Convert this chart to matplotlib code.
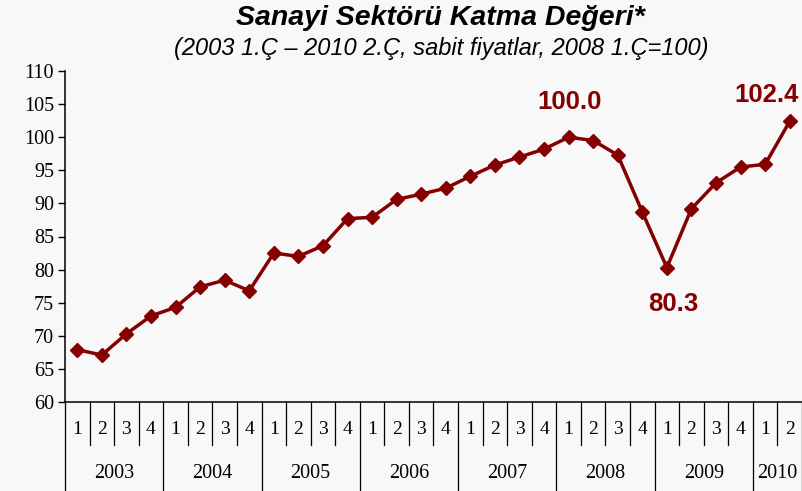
import numpy as np
import matplotlib.pyplot as plt
from matplotlib.transforms import blended_transform_factory

years = ["2003", "2004", "2005", "2006", "2007", "2008", "2009", "2010"]
quarters = ["1", "2", "3", "4"] * 7 + ["1", "2"]
values = [67.9, 67.1, 70.3, 73.0,
          74.3, 77.4, 78.4, 76.8,
          82.5, 82.0, 83.6, 87.7,
          87.9, 90.6, 91.4, 92.3,
          94.1, 95.8, 97.0, 98.2,
          100.0, 99.5, 97.3, 88.7,
          80.3, 89.2, 93.1, 95.5,
          95.9, 102.4]
# index of point -> (label, label x, label y)
labels = {20: ("100.0", 20.05, 105.3), 24: ("80.3", 24.25, 74.8), 29: ("102.4", 28.05, 106.4)}

red = "#850000"
bg = "#f8f8f8"

fig = plt.figure(figsize=(8.03, 4.91), dpi=100, facecolor=bg)
W, H = 803, 491
x0, x1, y0, y1 = 65, 802, 402, 71
ax = fig.add_axes([x0 / W, 1 - y0 / H, (x1 - x0) / W, (y0 - y1) / H])
ax.set_facecolor(bg)

x = np.arange(len(values))
ax.plot(x, values, color=red, lw=2.5, marker="D", ms=7, clip_on=False, zorder=3)

ax.set_xlim(-0.5, len(values) - 0.5)
ax.set_ylim(60, 110)
ax.set_yticks(np.arange(60, 111, 5))
ax.tick_params(axis="y", direction="out", length=5, width=1, labelsize=14.5, pad=3)
for t in ax.get_yticklabels():
    t.set_fontfamily("Liberation Serif")
ax.set_xticks([])
for s in ["top", "right"]:
    ax.spines[s].set_visible(False)
for s in ["left", "bottom"]:
    ax.spines[s].set_linewidth(1.1)

# two-level category axis
tr = blended_transform_factory(ax.transData, ax.transAxes)
ph = y0 - y1
q_len = 43 / ph
y_len = 88 / ph
for i, q in enumerate(quarters):
    ax.text(i, -27 / ph, q, transform=tr, ha="center", va="center",
            fontsize=14, fontfamily="Liberation Serif")
for i in range(len(values) + 1):
    xb = i - 0.5
    length = y_len if i % 4 == 0 or i == len(values) else q_len
    ax.plot([xb, xb], [0, -length], transform=tr, color="black", lw=0.9, clip_on=False)
for k, yr in enumerate(years):
    n = min(4, len(values) - 4 * k)
    ax.text(4 * k + (n - 1) / 2, -71 / ph, yr, transform=tr, ha="center", va="center",
            fontsize=14.5, fontfamily="Liberation Serif")

# value annotations
for idx, (txt, lx, ly) in labels.items():
    ax.text(lx, ly, txt, ha="center", va="center", color=red,
            fontsize=18.5, fontweight="bold", fontfamily="Liberation Sans")

fig.text(440 / W, 1 - 18 / H, "Sanayi Sektörü Katma Değeri*", ha="center", va="center",
         fontsize=20.5, fontweight="bold", fontstyle="italic", fontfamily="Liberation Sans")
fig.text(441 / W, 1 - 48 / H, "(2003 1.Ç – 2010 2.Ç, sabit fiyatlar, 2008 1.Ç=100)",
         ha="center", va="center", fontsize=17, fontstyle="italic",
         fontfamily="Liberation Sans")

fig.savefig("out.png", dpi=100, facecolor=bg)
